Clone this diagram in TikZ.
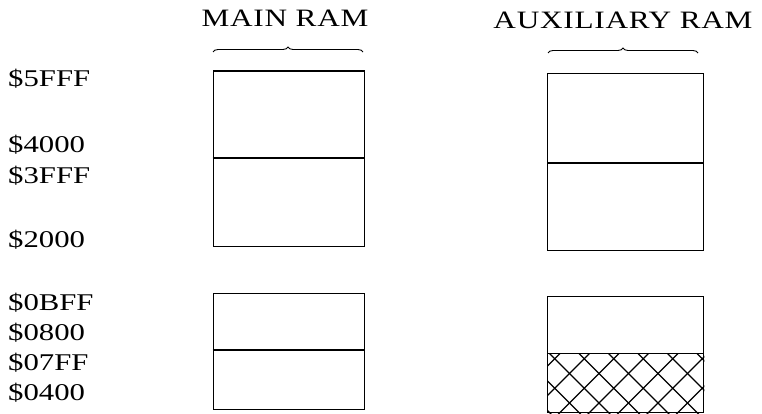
\documentclass[tikz,border=0pt]{standalone}
\usepackage{fontspec}
\setmainfont{Liberation Serif}
\newfontfamily\widefont[FakeStretch=1.28]{Liberation Serif}
\newfontfamily\titlefont[FakeStretch=1.25,LetterSpace=3]{Liberation Serif}
\usetikzlibrary{decorations.pathreplacing,patterns}
\tikzset{
  addr/.style={anchor=base west,inner sep=0pt,font=\widefont\fontsize{24}{24}\selectfont},
  title/.style={anchor=base,inner sep=0pt,font=\titlefont\fontsize{25}{25}\selectfont},
  membox/.style={draw,line width=1.3pt},
  divider/.style={line width=1.3pt},
  bracebar/.style={draw,line width=0.9pt,decorate,decoration={brace,amplitude=5pt,raise=0pt}},
  hatchline/.style={line width=1.1pt}
}
\begin{document}
\begin{tikzpicture}[x=1pt,y=-1pt]
\useasboundingbox (0,0) rectangle (762,414);
% titles
\node[title] (tmain) at (285,27) {MAIN RAM};
\node[title] (taux) at (623,29) {AUXILIARY RAM};
% braces
\coordinate (bm1) at (213,52);
\coordinate (bm2) at (363,52);
\coordinate (ba1) at (548,53);
\coordinate (ba2) at (698,53);
\draw[bracebar] (bm1) -- (bm2);
\draw[bracebar] (ba1) -- (ba2);
% main RAM boxes
\node[membox,minimum width=151pt,minimum height=175pt,inner sep=0pt,anchor=north west] (mtop) at (212.5,70.5) {};
\draw[divider] (mtop.west |- 0,158) coordinate (mdA) -- (mtop.east |- 0,158);
\node[membox,minimum width=151pt,minimum height=116pt,inner sep=0pt,anchor=north west] (mlow) at (212.5,293) {};
\draw[divider] (mlow.west |- 0,350) -- (mlow.east |- 0,350);
% auxiliary RAM boxes
\node[membox,minimum width=156pt,minimum height=177pt,inner sep=0pt,anchor=north west] (atop) at (547,73) {};
\draw[divider] (atop.west |- 0,163) -- (atop.east |- 0,163);
\node[membox,minimum width=156pt,minimum height=116pt,inner sep=0pt,anchor=north west] (alow) at (547,296) {};
\coordinate (hA) at (alow.west |- 0,353.5);
\coordinate (hB) at (alow.south east);
\begin{scope}
  \clip (hA) rectangle (hB);
  \foreach \k in {-4,...,8} {
    \draw[hatchline] (520+\k*29.5,353.5) -- ++(70,70);
    \draw[hatchline] (560+\k*29.5,353.5) -- ++(-70,70);
  }
\end{scope}
\draw[divider] (hA) -- (alow.east |- 0,353.5);
\node[membox,minimum width=156pt,minimum height=116pt,inner sep=0pt,anchor=north west] (alow2) at (547,296) {};
% address labels
\node[addr] (a5fff) at (8,87) {\$5FFF};
\node[addr] (a4000) at (8,153) {\$4000};
\node[addr] (a3fff) at (8,183) {\$3FFF};
\node[addr] (a2000) at (8,247) {\$2000};
\node[addr] (a0bff) at (8,310) {\$0BFF};
\node[addr] (a0800) at (8,340) {\$0800};
\node[addr] (a07ff) at (8,370) {\$07FF};
\node[addr] (a0400) at (8,400) {\$0400};
\end{tikzpicture}
\end{document}
